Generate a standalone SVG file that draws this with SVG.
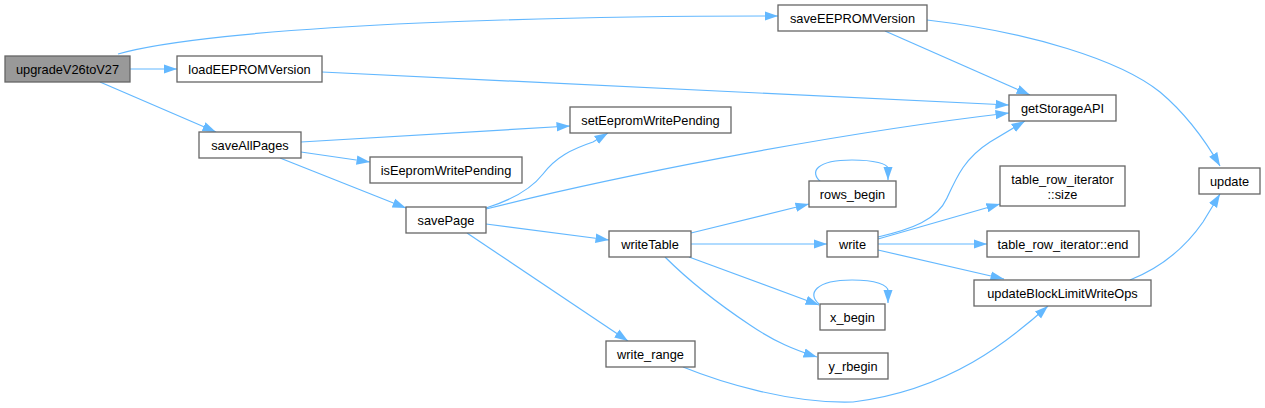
<svg xmlns="http://www.w3.org/2000/svg" width="1265" height="408" viewBox="0 0 1265 408">
<style>
.n rect{fill:#ffffff;stroke:#666666;stroke-width:1.3}
.root rect{fill:#999999}
.n text{font-family:"Liberation Sans",Arial,Helvetica,sans-serif;font-size:12.8px;fill:#000000;text-anchor:middle}
.e path{fill:none;stroke:#63b8ff;stroke-width:1.2;marker-end:url(#ah)}
</style>
<defs>
<marker id="ah" markerUnits="userSpaceOnUse" viewBox="0 0 14 10" markerWidth="14" markerHeight="10" refX="13.5" refY="5" orient="auto">
<path d="M0,0.3 L13.5,5 L0,9.7 Z" fill="#63b8ff"/>
</marker>
</defs>
<rect width="1265" height="408" fill="#ffffff"/>
<g id="edges" class="e">
<path d="M118,54 C160,42 260,30 420,23 C560,17 680,16 778,16"/>
<path d="M130,69 L177,69"/>
<path d="M100,82 L216,132"/>
<path d="M322,72 L1009,105"/>
<path d="M885,31 L1030,95"/>
<path d="M927,20 C1030,32 1120,60 1160,92 C1185,113 1205,140 1220,166"/>
<path d="M301,142 L570,126"/>
<path d="M301,152 L370,162"/>
<path d="M280,158 L406,208"/>
<path d="M486,208 C515,199 532,188 543,174 C556,157 572,149 593,142 L608,133"/>
<path d="M486,209 C600,180 820,135 1009,113"/>
<path d="M486,224 L609,240"/>
<path d="M467,233 L628,341"/>
<path d="M691,233 L809,204"/>
<path d="M691,244 L827,244"/>
<path d="M689,257 L819,305"/>
<path d="M665,257 C690,282 720,305 750,325 C775,342 795,350 817,357"/>
<path d="M683,367 C720,382 790,404 853,402 C950,390 1010,340 1048,306"/>
<path d="M878,237 C912,229 937,220 947,198 C957,176 965,158 990,142 L1025,121"/>
<path d="M878,239 L1000,204"/>
<path d="M878,244 L987,244"/>
<path d="M878,250 L1004,279"/>
<path d="M1130,280 C1160,268 1185,248 1203,222 L1220,194"/>
<path d="M821,182 C809,172 816,160 852,160 C875,160 887,164 888,168 L888,180"/>
<path d="M819,304 C807,294 815,280 852,280 C876,280 888,285 888,291 L888,303"/>
</g>
<g id="node-upgradeV26toV27" class="n root"><rect x="5" y="56" width="125" height="26"/><text x="67.5" y="73.5">upgradeV26toV27</text></g>
<g id="node-loadEEPROMVersion" class="n"><rect x="177" y="56" width="145" height="26"/><text x="249.5" y="73.5">loadEEPROMVersion</text></g>
<g id="node-saveAllPages" class="n"><rect x="199" y="132" width="102" height="26"/><text x="250" y="149.5">saveAllPages</text></g>
<g id="node-isEepromWritePending" class="n"><rect x="370" y="157" width="152" height="26"/><text x="446" y="174.5">isEepromWritePending</text></g>
<g id="node-saveEEPROMVersion" class="n"><rect x="778" y="5" width="149" height="26"/><text x="852.5" y="22.5">saveEEPROMVersion</text></g>
<g id="node-setEepromWritePending" class="n"><rect x="570" y="107" width="161" height="26"/><text x="650.5" y="124.5">setEepromWritePending</text></g>
<g id="node-getStorageAPI" class="n"><rect x="1009" y="95" width="107" height="26"/><text x="1062.5" y="112.5">getStorageAPI</text></g>
<g id="node-update" class="n"><rect x="1199" y="168" width="61" height="26"/><text x="1229.5" y="185.5">update</text></g>
<g id="node-table_row_iterator_size" class="n"><rect x="1000" y="166" width="125" height="40"/><text x="1062.5" y="183.5">table_row_iterator</text><text x="1062.5" y="198.5">::size</text></g>
<g id="node-rows_begin" class="n"><rect x="809" y="181" width="87" height="26"/><text x="852.5" y="198.5">rows_begin</text></g>
<g id="node-savePage" class="n"><rect x="406" y="207" width="80" height="26"/><text x="446" y="224.5">savePage</text></g>
<g id="node-writeTable" class="n"><rect x="609" y="231" width="82" height="26"/><text x="650" y="248.5">writeTable</text></g>
<g id="node-write_range" class="n"><rect x="606" y="341" width="89" height="26"/><text x="650.5" y="358.5">write_range</text></g>
<g id="node-write" class="n"><rect x="827" y="231" width="51" height="26"/><text x="852.5" y="248.5">write</text></g>
<g id="node-table_row_iterator_end" class="n"><rect x="987" y="231" width="152" height="26"/><text x="1063" y="248.5">table_row_iterator::end</text></g>
<g id="node-updateBlockLimitWriteOps" class="n"><rect x="974" y="280" width="177" height="26"/><text x="1062.5" y="297.5">updateBlockLimitWriteOps</text></g>
<g id="node-x_begin" class="n"><rect x="820" y="304" width="65" height="26"/><text x="852.5" y="321.5">x_begin</text></g>
<g id="node-y_rbegin" class="n"><rect x="818" y="353" width="70" height="26"/><text x="853" y="370.5">y_rbegin</text></g>
</svg>
